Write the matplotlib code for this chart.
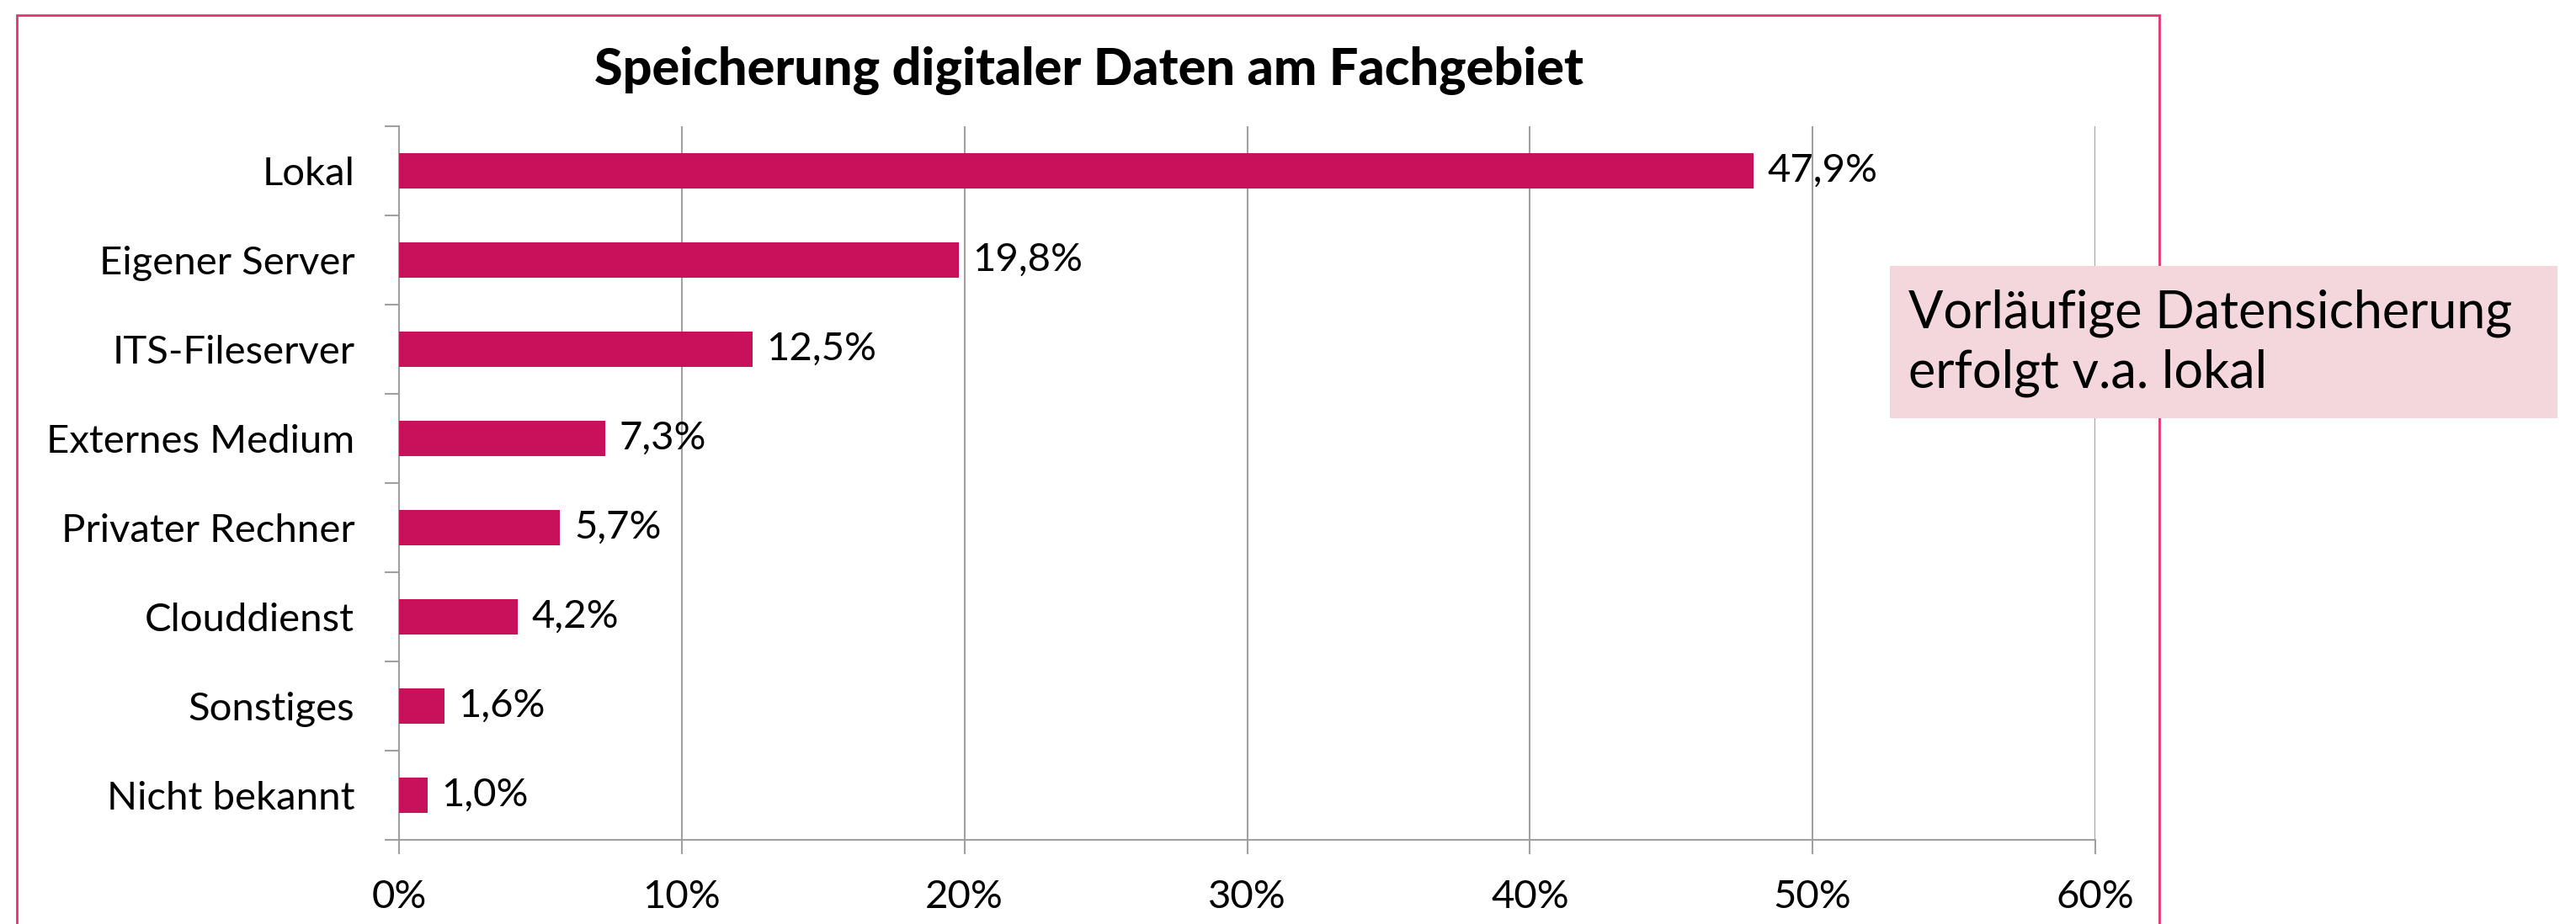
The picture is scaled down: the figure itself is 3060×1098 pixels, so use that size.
import numpy as np
import matplotlib
matplotlib.use("Agg")
import matplotlib.pyplot as plt
from matplotlib.patches import Rectangle
from matplotlib.ticker import FixedLocator, PercentFormatter

plt.rcParams['font.family'] = ['Lato', 'DejaVu Sans']

#--------------------------------------
kategorien = ["Lokal", "Eigener Server", "ITS-Fileserver", "Externes Medium",
              "Privater Rechner", "Clouddienst", "Sonstiges", "Nicht bekannt"]
anteile    = [47.9, 19.8, 12.5, 7.3, 5.7, 4.2, 1.6, 1.0]
xticks     = [0, 10, 20, 30, 40, 50, 60]
titel      = "Speicherung digitaler Daten am Fachgebiet"
hinweis    = "Vorläufige Datensicherung\nerfolgt v.a. lokal"
#--------------------------------------
W, H       = 3060, 1098
balken     = '#C8115B'
rahmen     = '#E2356F'
grau       = '#A0A0A0'
fs         = 34

fig = plt.figure(figsize=(W/100, H/100), dpi=100)
fig.patch.set_facecolor('white')

# pink frame, open at the bottom
fig.patches.append(Rectangle((20/W, -0.2), (2565-20)/W, 1.2 - 18/H,
                             transform=fig.transFigure, fill=False,
                             edgecolor=rahmen, linewidth=2, zorder=0))

ax = fig.add_axes([474/W, 1-998/H, (2489-474)/W, (998-150)/H])
y = np.arange(len(kategorien))
bars = ax.barh(y, anteile, height=0.4, color=balken, zorder=3)
ax.bar_label(bars, labels=[f"{v:.1f}%".replace('.', ',') for v in anteile],
             padding=12, fontsize=fs)

ax.set_xlim(0, 60)
ax.set_ylim(len(kategorien)-0.5, -0.5)
ax.set_xticks(xticks)
ax.xaxis.set_major_formatter(PercentFormatter(decimals=0))
ax.set_yticks(y)
ax.set_yticklabels(kategorien)
ax.yaxis.set_minor_locator(FixedLocator(np.arange(-0.5, len(kategorien), 1)))

ax.grid(axis='x', color=grau, linewidth=1.5, zorder=0)
for s in ['top', 'right']:
    ax.spines[s].set_visible(False)
for s in ['left', 'bottom']:
    ax.spines[s].set_color(grau)
    ax.spines[s].set_linewidth(1.5)

ax.tick_params(axis='x', length=12, width=1.5, color=grau, pad=22, labelsize=fs)
ax.tick_params(axis='y', which='major', length=0, pad=38, labelsize=fs)
ax.tick_params(axis='y', which='minor', length=12, width=1.5, color=grau)

fig.text(1293/W, 1-84/H, titel, ha='center', va='center',
         fontsize=44, fontweight='black')

# Hinweisbox
fig.patches.append(Rectangle((2245/W, 1-497/H), (3038-2245)/W, (497-316)/H,
                             transform=fig.transFigure, facecolor='#F4D7DD',
                             edgecolor='none', zorder=5))
fig.text(2267/W, 1-408/H, hinweis, ha='left', va='center', fontsize=44,
         linespacing=1.3, zorder=6)

fig.savefig("out.png", dpi=100)
